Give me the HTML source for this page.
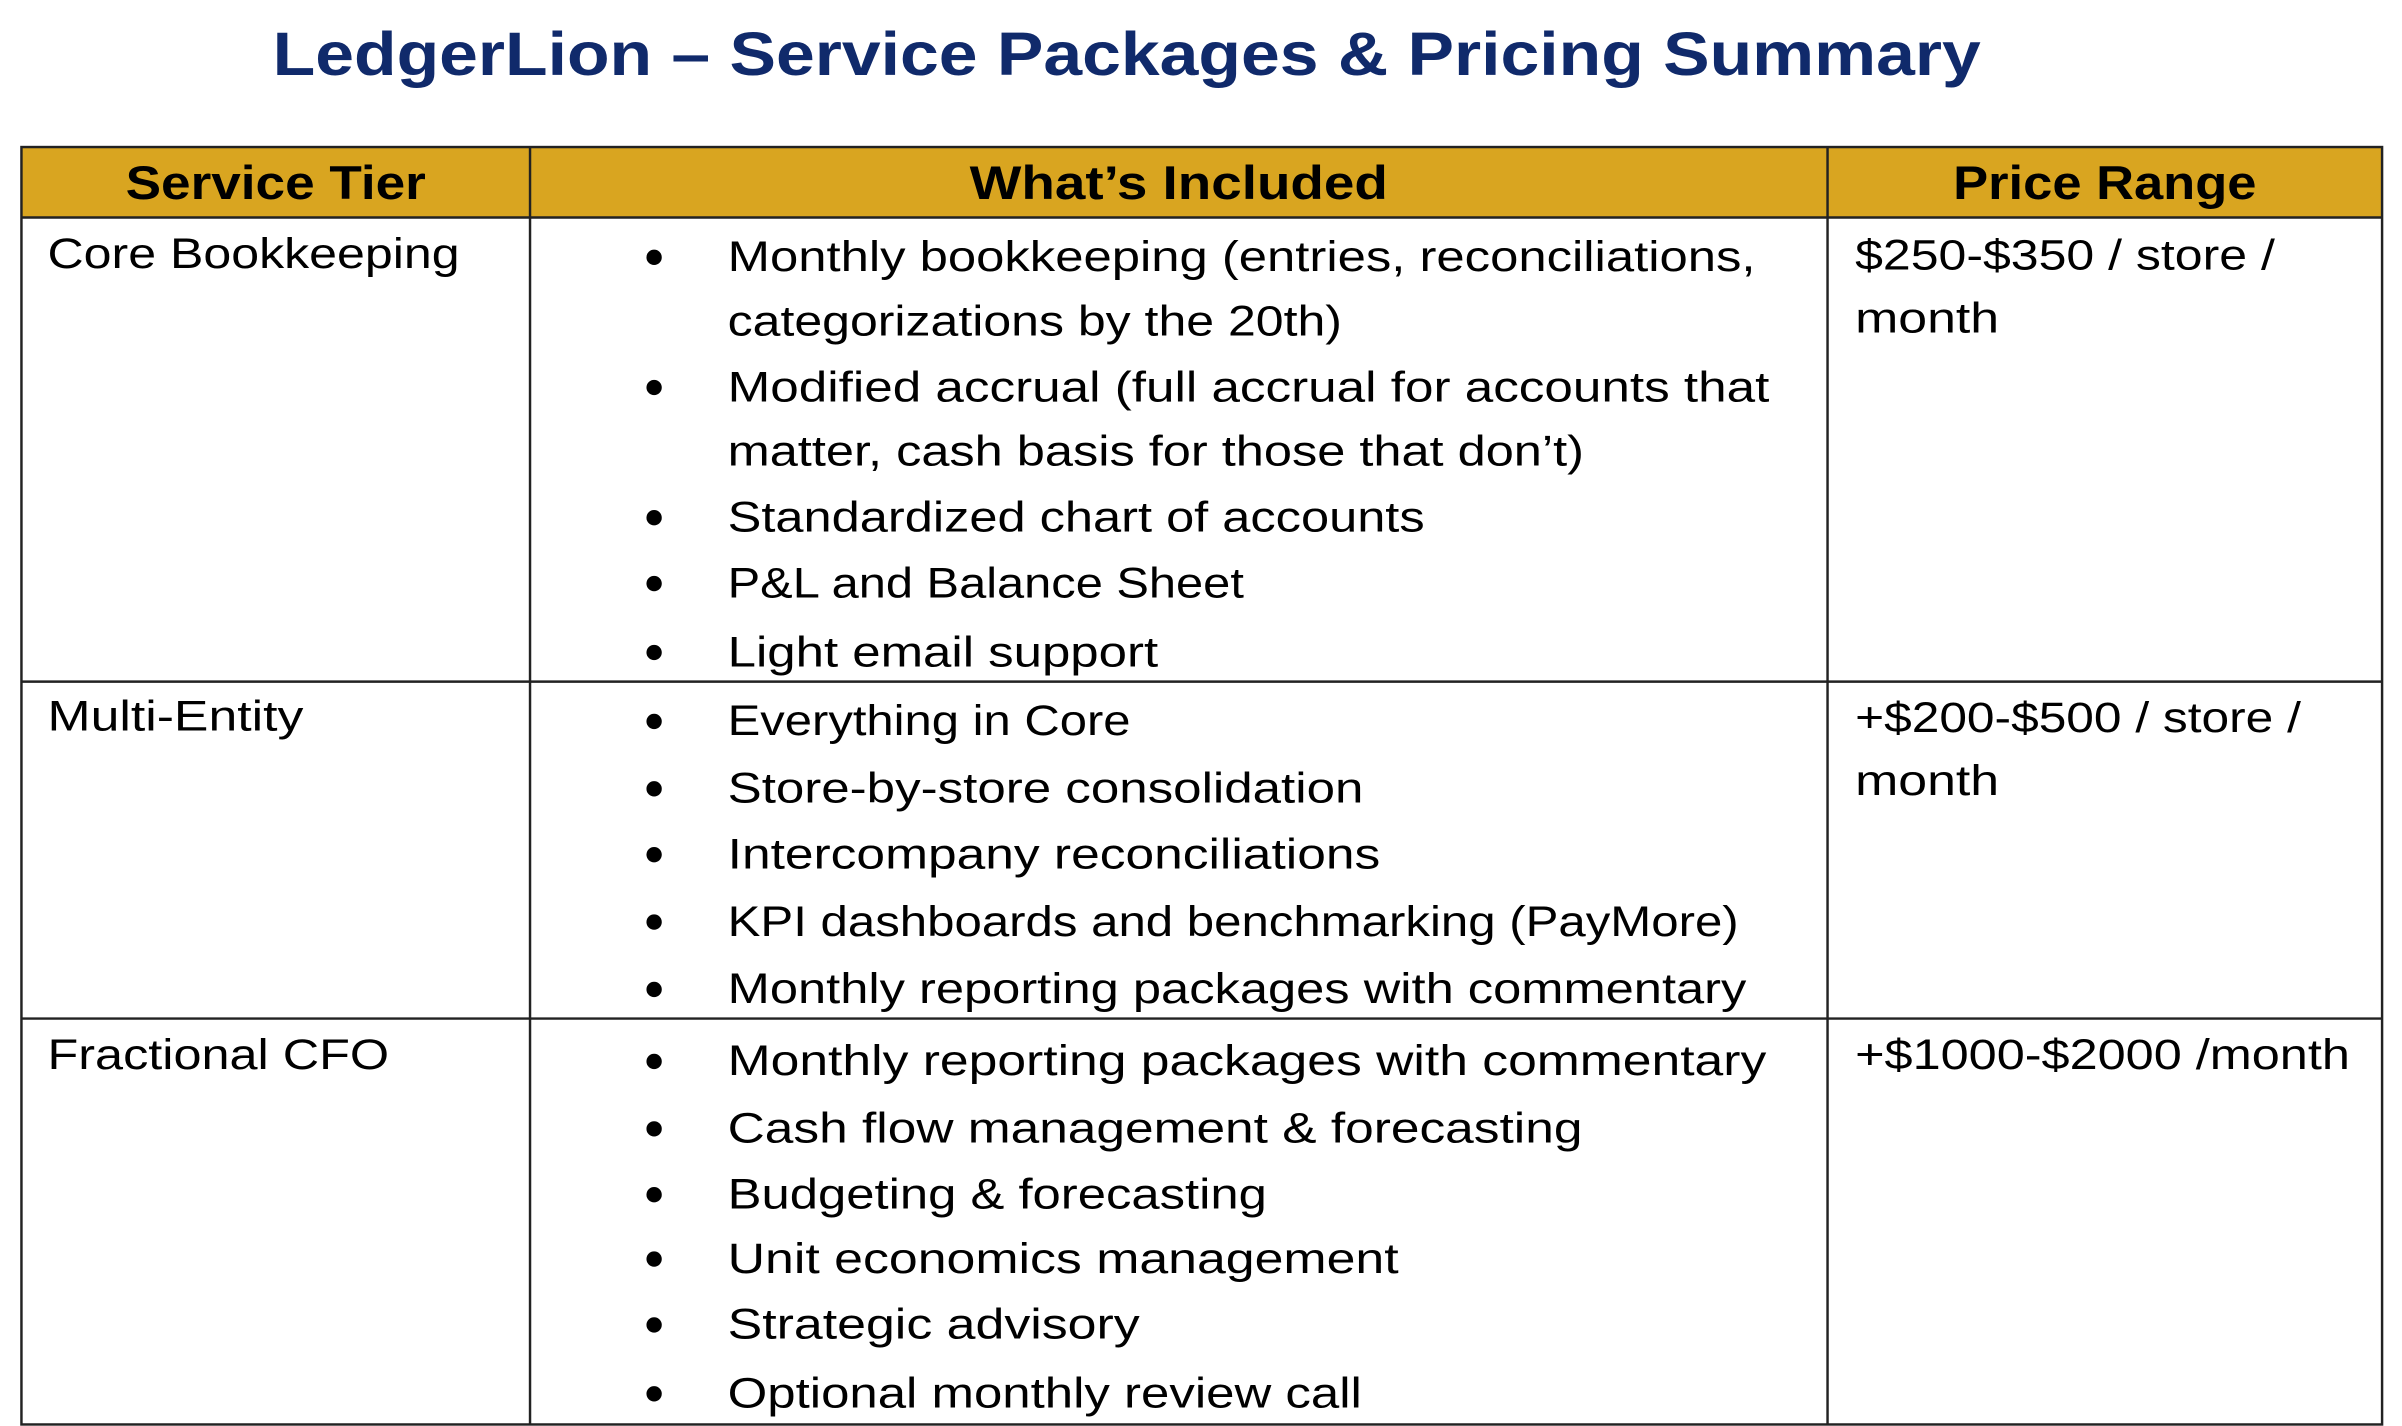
<!DOCTYPE html>
<html><head><meta charset="utf-8"><style>
html,body{margin:0;padding:0;background:#fff;width:2402px;height:1426px;overflow:hidden}
svg{display:block}
text{font-family:"Liberation Sans",sans-serif}
</style></head><body>
<svg width="2402" height="1426" viewBox="0 0 1568 931" preserveAspectRatio="none">
<text x="178" y="49" font-size="40" font-weight="bold" fill="#102a6b" textLength="1115" lengthAdjust="spacingAndGlyphs">LedgerLion – Service Packages &amp; Pricing Summary</text>
<rect x="14" y="96" width="1541" height="46" fill="#d9a520"/>
<g stroke="#222" stroke-width="1.6" fill="none">
<rect x="14" y="96" width="1541" height="834"/>
<line x1="14" y1="142" x2="1555" y2="142"/>
<line x1="14" y1="445" x2="1555" y2="445"/>
<line x1="14" y1="665" x2="1555" y2="665"/>
<line x1="346" y1="96" x2="346" y2="930"/>
<line x1="1193" y1="96" x2="1193" y2="930"/>
</g>
<g font-size="31" font-weight="bold" fill="#000">
<text x="82" y="130" textLength="196" lengthAdjust="spacingAndGlyphs">Service Tier</text>
<text x="633" y="130" textLength="273" lengthAdjust="spacingAndGlyphs">What’s Included</text>
<text x="1275" y="130" textLength="198" lengthAdjust="spacingAndGlyphs">Price Range</text>
</g>
<g font-size="28" fill="#000" lengthAdjust="spacingAndGlyphs">
<text x="31" y="175" textLength="269" lengthAdjust="spacingAndGlyphs">Core Bookkeeping</text>
<text x="31" y="477" textLength="167" lengthAdjust="spacingAndGlyphs">Multi-Entity</text>
<text x="31" y="698" textLength="223" lengthAdjust="spacingAndGlyphs">Fractional CFO</text>

<text x="1211" y="176" textLength="274" lengthAdjust="spacingAndGlyphs">$250-$350 / store /</text>
<text x="1211" y="217" textLength="94" lengthAdjust="spacingAndGlyphs">month</text>
<text x="1211" y="478" textLength="291" lengthAdjust="spacingAndGlyphs">+$200-$500 / store /</text>
<text x="1211" y="519" textLength="94" lengthAdjust="spacingAndGlyphs">month</text>
<text x="1211" y="698" textLength="323" lengthAdjust="spacingAndGlyphs">+$1000-$2000 /month</text>

<text x="475" y="177" textLength="671" lengthAdjust="spacingAndGlyphs">Monthly bookkeeping (entries, reconciliations,</text>
<text x="475" y="219" textLength="401" lengthAdjust="spacingAndGlyphs">categorizations by the 20th)</text>
<text x="475" y="262" textLength="680" lengthAdjust="spacingAndGlyphs">Modified accrual (full accrual for accounts that</text>
<text x="475" y="304" textLength="559" lengthAdjust="spacingAndGlyphs">matter, cash basis for those that don’t)</text>
<text x="475" y="347" textLength="455" lengthAdjust="spacingAndGlyphs">Standardized chart of accounts</text>
<text x="475" y="390" textLength="337" lengthAdjust="spacingAndGlyphs">P&amp;L and Balance Sheet</text>
<text x="475" y="435" textLength="281" lengthAdjust="spacingAndGlyphs">Light email support</text>
<text x="475" y="480" textLength="263" lengthAdjust="spacingAndGlyphs">Everything in Core</text>
<text x="475" y="524" textLength="415" lengthAdjust="spacingAndGlyphs">Store-by-store consolidation</text>
<text x="475" y="567" textLength="426" lengthAdjust="spacingAndGlyphs">Intercompany reconciliations</text>
<text x="475" y="611" textLength="660" lengthAdjust="spacingAndGlyphs">KPI dashboards and benchmarking (PayMore)</text>
<text x="475" y="655" textLength="665" lengthAdjust="spacingAndGlyphs">Monthly reporting packages with commentary</text>
<text x="475" y="702" textLength="678" lengthAdjust="spacingAndGlyphs">Monthly reporting packages with commentary</text>
<text x="475" y="746" textLength="558" lengthAdjust="spacingAndGlyphs">Cash flow management &amp; forecasting</text>
<text x="475" y="789" textLength="352" lengthAdjust="spacingAndGlyphs">Budgeting &amp; forecasting</text>
<text x="475" y="831" textLength="438" lengthAdjust="spacingAndGlyphs">Unit economics management</text>
<text x="475" y="874" textLength="269" lengthAdjust="spacingAndGlyphs">Strategic advisory</text>
<text x="475" y="919" textLength="414" lengthAdjust="spacingAndGlyphs">Optional monthly review call</text>
</g>
<g fill="#000">
<circle cx="427" cy="168" r="5"/><circle cx="427" cy="253" r="5"/><circle cx="427" cy="338" r="5"/>
<circle cx="427" cy="381" r="5"/><circle cx="427" cy="426" r="5"/>
<circle cx="427" cy="471" r="5"/><circle cx="427" cy="515" r="5"/><circle cx="427" cy="558" r="5"/>
<circle cx="427" cy="602" r="5"/><circle cx="427" cy="646" r="5"/>
<circle cx="427" cy="693" r="5"/><circle cx="427" cy="737" r="5"/><circle cx="427" cy="780" r="5"/>
<circle cx="427" cy="822" r="5"/><circle cx="427" cy="865" r="5"/><circle cx="427" cy="910" r="5"/>
</g>
</svg>
</body></html>
